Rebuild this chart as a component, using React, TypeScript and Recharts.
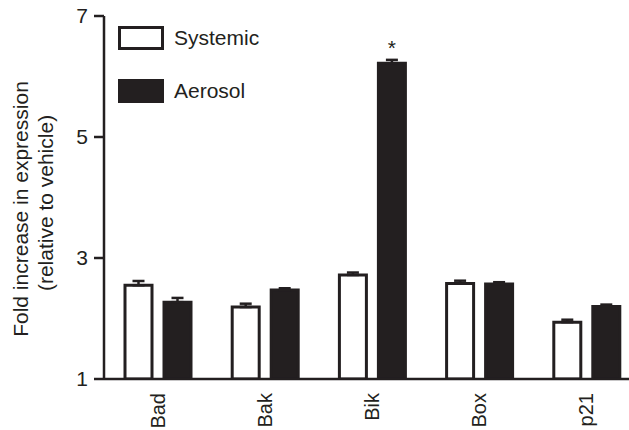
import React from "react"
import { Bar, BarChart, ErrorBar, LabelList, Legend, XAxis, YAxis } from "recharts"

const genes = ["Bad", "Bak", "Bik", "Box", "p21"]
const systemic = [2.55, 2.19, 2.72, 2.58, 1.94]
const systemicErr = [0.07, 0.055, 0.04, 0.045, 0.04]
const aerosol = [2.27, 2.47, 6.22, 2.57, 2.2]
const aerosolErr = [0.07, 0.03, 0.055, 0.03, 0.03]
const significance = ["", "", "*", "", ""]
const yTicks = [1, 3, 5, 7]

const INK = "#231f20"
const FONT = "'Liberation Sans', Arial, Helvetica, sans-serif"

const data = genes.map((gene, i) => ({
  gene,
  systemic: systemic[i],
  systemicErr: [0, systemicErr[i]],
  aerosol: aerosol[i],
  aerosolErr: [0, aerosolErr[i]],
  sig: significance[i],
}))

function GeneTick({ x, y, payload }: any) {
  // y already sits a few px under the axis line
  const tx = x + 7
  const ty = y + 6
  return (
    <text
      x={tx}
      y={ty}
      transform={`rotate(-90, ${tx}, ${ty})`}
      textAnchor="end"
      fontSize={20}
      fontFamily={FONT}
      fill={INK}
    >
      {payload.value}
    </text>
  )
}

function AxisTitle() {
  return (
    <g fontFamily={FONT} fontSize={21} fill={INK} textAnchor="middle">
      <text x={28} y={209} transform="rotate(-90, 28, 209)">
        Fold increase in expression
      </text>
      <text x={53} y={203} transform="rotate(-90, 53, 203)">
        (relative to vehicle)
      </text>
    </g>
  )
}

function Star(props: any) {
  const { x, y, width, value } = props
  if (!value) return null
  return (
    <text x={x + width / 2} y={y - 8} textAnchor="middle" fontSize={21} fontFamily={FONT} fill={INK}>
      {value}
    </text>
  )
}

function LegendBox() {
  const rows = [
    { label: "Systemic", fill: "#ffffff" },
    { label: "Aerosol", fill: INK },
  ]
  return (
    <div style={{ fontFamily: FONT, fontSize: 21, color: INK }}>
      {rows.map((row, i) => (
        <div key={row.label} style={{ display: "flex", alignItems: "center", height: 24, marginTop: i ? 29 : 0 }}>
          <div
            style={{
              width: 40,
              height: 18,
              background: row.fill,
              border: `3px solid ${INK}`,
              marginRight: 10,
            }}
          />
          <span>{row.label}</span>
        </div>
      ))}
    </div>
  )
}

export default function App() {
  return (
    <div style={{ position: "absolute", left: 0, top: 0, width: 629, height: 430, overflow: "hidden", background: "#fff" }}>
      <BarChart
        width={640}
        height={430}
        data={data}
        margin={{ top: 16, right: 0, bottom: 0, left: 0 }}
        barSize={27}
        barGap={12}
      >
        <XAxis
          dataKey="gene"
          height={51}
          tickLine={false}
          axisLine={{ stroke: INK, strokeWidth: 2.5 }}
          tick={<GeneTick />}
          interval={0}
        />
        <YAxis
          width={104}
          domain={[1, 7]}
          ticks={yTicks}
          allowDataOverflow
          tickSize={10}
          tickMargin={6}
          tickLine={{ stroke: INK, strokeWidth: 2.5 }}
          axisLine={{ stroke: INK, strokeWidth: 2.5 }}
          tick={{ fontSize: 21, fontFamily: FONT, fill: INK }}
          label={<AxisTitle />}
        />
        <Legend
          layout="vertical"
          align="center"
          verticalAlign="middle"
          content={<LegendBox />}
          wrapperStyle={{ top: 26, left: 118, width: 200, height: 100 }}
        />
        <Bar dataKey="systemic" name="Systemic" fill="#ffffff" stroke={INK} strokeWidth={3} isAnimationActive={false}>
          <ErrorBar dataKey="systemicErr" direction="y" width={6} stroke={INK} strokeWidth={2.5} />
        </Bar>
        <Bar dataKey="aerosol" name="Aerosol" fill={INK} stroke={INK} strokeWidth={3} isAnimationActive={false}>
          <ErrorBar dataKey="aerosolErr" direction="y" width={6} stroke={INK} strokeWidth={2.5} />
          <LabelList dataKey="sig" content={<Star />} />
        </Bar>
      </BarChart>
    </div>
  )
}
